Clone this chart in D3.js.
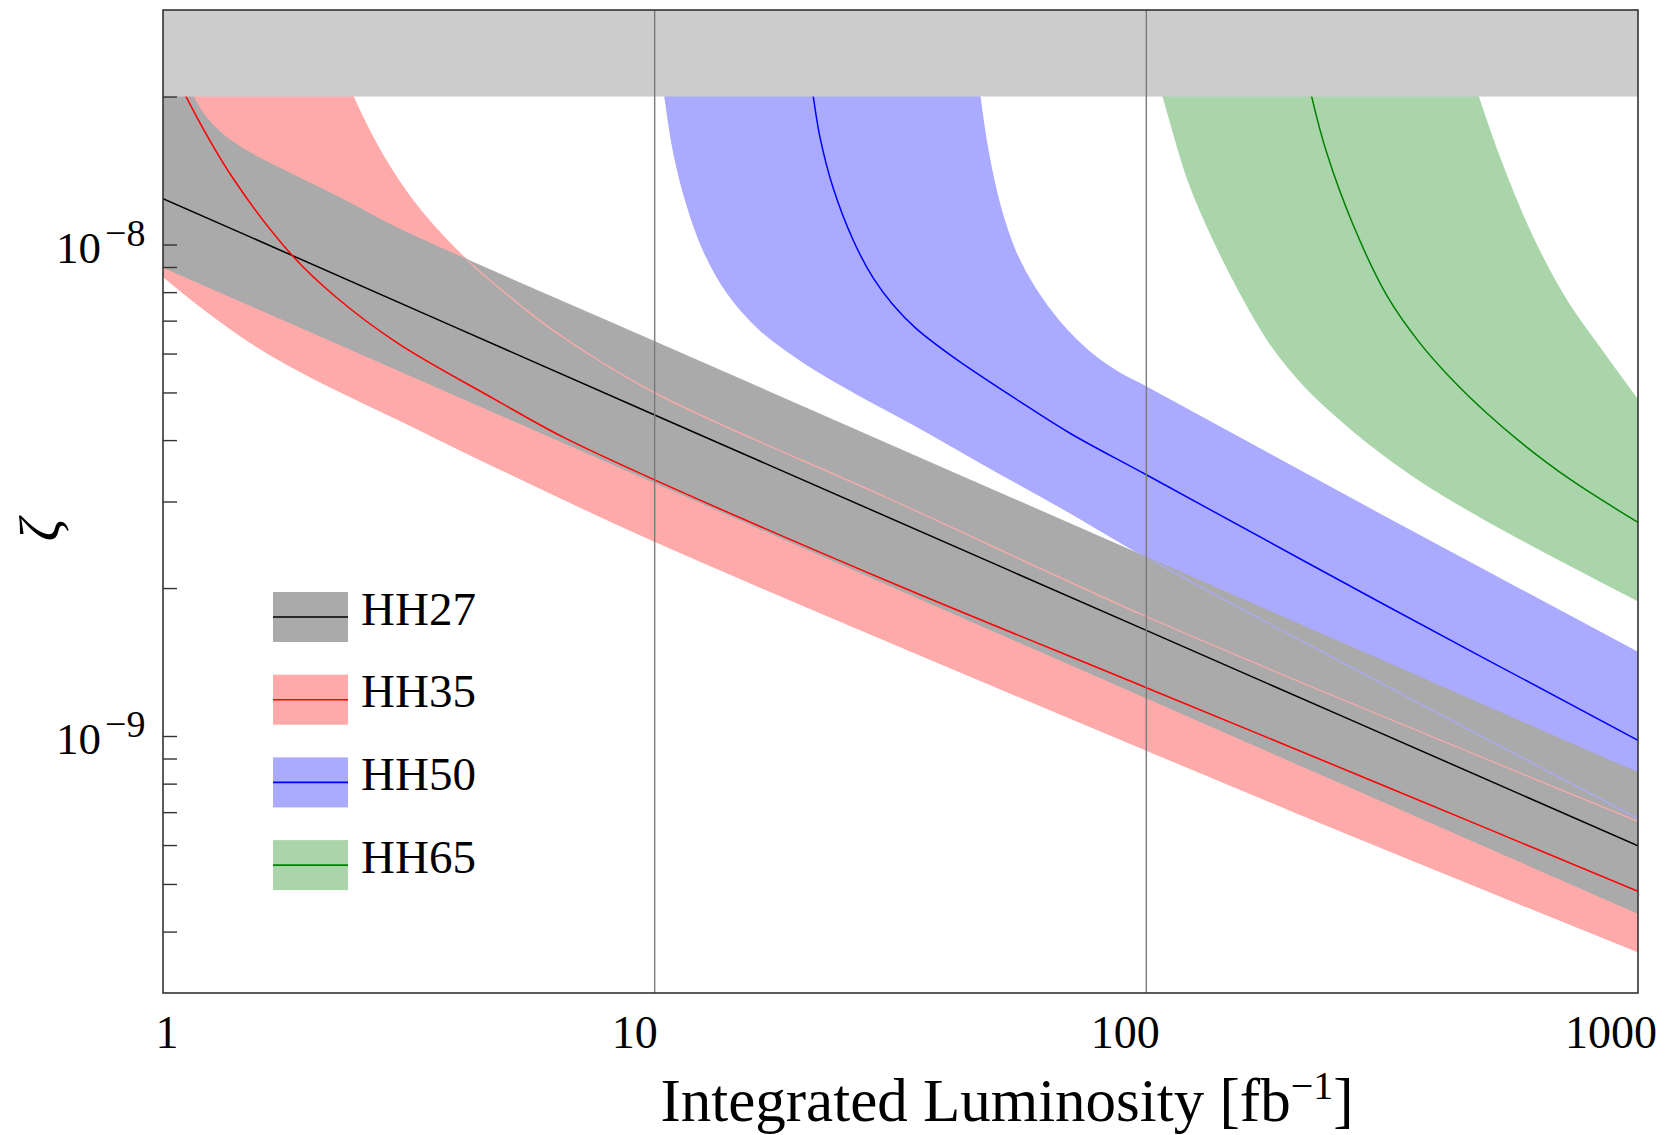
<!DOCTYPE html>
<html lang="en">
    <head>
        <meta charset="utf-8">
        <title>Luminosity reach</title>
        <script type="text/javascript" src="https://cdnjs.cloudflare.com/ajax/libs/d3/7.8.5/d3.min.js"></script>
        <style>
            body { margin: 0; background: #ffffff; }
            svg text { font-family: "Liberation Serif", "Times New Roman", serif; fill: #000000; }
        </style>
    </head>
    <body>
        <script type="text/javascript">

            // integrated luminosity (fb^-1) and zeta
            // (first points of some curves sit above 2e-8, under the excluded band)
            var hh27MidL = [1, 10, 100, 1000];
            var hh27Mid  = [1.24e-8, 4.50e-9, 1.64e-9, 5.98e-10];
            var hh27HiL  = [1, 1.151, 1.206, 1.276, 1.388, 1.575, 1.899, 2.401, 3, 10, 100, 1000];
            var hh27Hi   = [2.64e-8, 2.0e-8, 1.849e-8, 1.731e-8, 1.614e-8, 1.497e-8, 1.364e-8, 1.213e-8, 1.079e-8, 6.34e-9, 2.31e-9, 8.41e-10];
            var hh27LoL  = [1, 10, 100, 1000];
            var hh27Lo   = [9.0e-9, 3.28e-9, 1.196e-9, 4.36e-10];

            var hh35MidL = [1, 1.114, 1.388, 1.84, 2.25, 3, 4.75, 6.5, 10, 30, 100, 300, 1000];
            var hh35Mid  = [2.53e-8, 2.0e-8, 1.364e-8, 9.45e-9, 7.81e-9, 6.30e-9, 4.83e-9, 4.06e-9, 3.32e-9, 2.06e-9, 1.254e-9, 7.97e-10, 4.83e-10];
            var hh35HiL  = [1, 2.1, 2.435, 2.763, 3.22, 3.94, 5, 6.5, 10, 30, 100, 300, 1000];
            var hh35Hi   = [1e-7, 2.89e-8, 2.0e-8, 1.555e-8, 1.23e-8, 9.78e-9, 7.92e-9, 6.48e-9, 4.99e-9, 3.04e-9, 1.75e-9, 1.101e-9, 6.70e-10];
            var hh35LoL  = [1, 1.189, 1.548, 2, 3, 5, 10, 100, 300, 1000];
            var hh35Lo   = [8.62e-9, 7.49e-9, 6.21e-9, 5.37e-9, 4.41e-9, 3.44e-9, 2.49e-9, 9.36e-10, 5.93e-10, 3.64e-10];

            var hh50MidL = [20.6, 21.02, 21.69, 23.08, 25.34, 27.84, 30.5, 34, 40.49, 55.33, 69.94, 100, 300, 1000];
            var hh50Mid  = [2.37e-8, 2.0e-8, 1.652e-8, 1.301e-8, 1.020e-8, 8.54e-9, 7.55e-9, 6.75e-9, 5.90e-9, 4.79e-9, 4.13e-9, 3.40e-9, 1.867e-9, 9.80e-10];
            var hh50HiL  = [45.03, 45.87, 47.63, 50.39, 54.05, 59.36, 66.73, 76.8, 88.4, 100, 300, 1000];
            var hh50Hi   = [2.32e-8, 2.0e-8, 1.555e-8, 1.202e-8, 9.74e-9, 8.15e-9, 6.95e-9, 6.04e-9, 5.47e-9, 5.13e-9, 2.82e-9, 1.479e-9];
            var hh50LoL  = [10.3, 10.49, 10.91, 11.62, 12.56, 14.01, 16.38, 20.06, 25.34, 34.64, 47.34, 67.3, 100, 300, 1000];
            var hh50Lo   = [2.32e-8, 2.0e-8, 1.555e-8, 1.207e-8, 9.74e-9, 8.00e-9, 6.70e-9, 5.76e-9, 5.01e-9, 4.23e-9, 3.54e-9, 2.91e-9, 2.31e-9, 1.282e-9, 6.79e-10];

            var hh65MidL = [205, 216.9, 232.6, 263.6, 308.1, 360.1, 421, 492.1, 575.3, 727, 1000];
            var hh65Mid  = [2.63e-8, 2.0e-8, 1.540e-8, 1.094e-8, 7.89e-9, 6.30e-9, 5.28e-9, 4.54e-9, 3.97e-9, 3.33e-9, 2.72e-9];
            var hh65HiL  = [440, 473.2, 523.7, 612.1, 715.7, 836.6, 1000];
            var hh65Hi   = [2.52e-8, 2.0e-8, 1.497e-8, 1.030e-8, 7.70e-9, 6.16e-9, 4.82e-9];
            var hh65LoL  = [104, 108.2, 120.8, 132.1, 154.9, 180, 210.6, 246.1, 287.6, 361.8, 500, 1000];
            var hh65Lo   = [2.3e-8, 2.0e-8, 1.377e-8, 1.105e-8, 8.00e-9, 6.21e-9, 5.13e-9, 4.43e-9, 3.89e-9, 3.30e-9, 2.72e-9, 1.885e-9];

            var excludedFrom = 2e-8;
            var xTicks = [1, 10, 100, 1000];
            var yMajor = [1e-9, 1e-8];
            var yMinor = [4e-10, 5e-10, 6e-10, 7e-10, 8e-10, 9e-10,
                          2e-9, 3e-9, 4e-9, 5e-9, 6e-9, 7e-9, 8e-9, 9e-9, 2e-8];

            var w = 1665;
            var h = 1135;
            var pLeft = 163, pRight = 1638, pTop = 10, pBottom = 993;

            var xScale = d3.scaleLog().domain([1, 1000]).range([pLeft, pRight]);
            var yScale = d3.scaleLog().domain([3e-10, 3e-8]).range([pBottom, pTop]);

            var pts = function(ls, vs){ return ls.map(function(l, i){ return [l, vs[i]]; }); };

            var series = [
                {name: "HH27", fill: "#aaaaaa", stroke: "#000000",
                    mid: pts(hh27MidL, hh27Mid), hi: pts(hh27HiL, hh27Hi), lo: pts(hh27LoL, hh27Lo)},
                {name: "HH35", fill: "#ffaaaa", stroke: "#ff0000",
                    mid: pts(hh35MidL, hh35Mid), hi: pts(hh35HiL, hh35Hi), lo: pts(hh35LoL, hh35Lo)},
                {name: "HH50", fill: "#aaaaff", stroke: "#0000ff",
                    mid: pts(hh50MidL, hh50Mid), hi: pts(hh50HiL, hh50Hi), lo: pts(hh50LoL, hh50Lo)},
                {name: "HH65", fill: "#aad5aa", stroke: "#008000",
                    mid: pts(hh65MidL, hh65Mid), hi: pts(hh65HiL, hh65Hi), lo: pts(hh65LoL, hh65Lo)}
            ];
            var byName = {};
            series.forEach(function(s){ byName[s.name] = s; });

            var line = d3.line()
                .x(function(d){ return xScale(d[0]); })
                .y(function(d){ return yScale(d[1]); })
                .curve(d3.curveCatmullRom.alpha(0.5));

            var bandPath = function(s){
                var back = line(s.lo.slice().reverse());
                return line(s.hi) + "L" + back.slice(1) + "Z";
            };

            var svg = d3.select("body")
                .append("svg")
                .attr("width", w)
                .attr("height", h);

            svg.append("defs")
                .append("clipPath")
                .attr("id", "plotclip")
                .append("rect")
                .attr("x", pLeft)
                .attr("y", pTop)
                .attr("width", pRight - pLeft)
                .attr("height", pBottom - pTop);

            var plot = svg.append("g").attr("clip-path", "url(#plotclip)");

            // bands: grey one sits on top of the others
            var fillOrder = ["HH50", "HH65", "HH35", "HH27"];
            plot.selectAll("path.band")
                .data(fillOrder.map(function(n){ return byName[n]; }))
                .enter()
                .append("path")
                .attr("class", "band")
                .attr("d", bandPath)
                .attr("fill", function(d){ return d.fill; })
                .attr("stroke", "none");

            // band edges stay visible through the grey band
            fillOrder.forEach(function(n){
                var s = byName[n];
                [s.hi, s.lo].forEach(function(edge){
                    plot.append("path")
                        .attr("d", line(edge))
                        .attr("fill", "none")
                        .attr("stroke", s.fill)
                        .attr("stroke-width", 1.2);
                });
            });

            plot.selectAll("path.mid")
                .data(series)
                .enter()
                .append("path")
                .attr("class", "mid")
                .attr("d", function(d){ return line(d.mid); })
                .attr("fill", "none")
                .attr("stroke", function(d){ return d.stroke; })
                .attr("stroke-width", 1.5);

            // excluded region
            plot.append("rect")
                .attr("x", pLeft)
                .attr("y", yScale(3e-8) - 3)
                .attr("width", pRight - pLeft)
                .attr("height", yScale(excludedFrom) - yScale(3e-8) + 3)
                .attr("fill", "#cccccc");

            // vertical grid at 10 and 100
            svg.selectAll("line.grid")
                .data([10, 100])
                .enter()
                .append("line")
                .attr("class", "grid")
                .attr("x1", function(d){ return xScale(d); })
                .attr("x2", function(d){ return xScale(d); })
                .attr("y1", pTop)
                .attr("y2", pBottom)
                .attr("stroke", "#7a7a7a")
                .attr("stroke-width", 1.4);

            // y ticks, inward
            var yAxis = d3.axisLeft(yScale)
                .tickValues(yMajor.concat(yMinor))
                .tickSize(-14)
                .tickFormat("");
            svg.append("g")
                .attr("class", "y axis")
                .attr("transform", "translate(" + pLeft + ",0)")
                .call(yAxis)
                .call(function(g){ g.select(".domain").remove(); })
                .selectAll(".tick line")
                .attr("stroke", "#333333")
                .attr("stroke-width", 1.4);

            svg.append("rect")
                .attr("x", pLeft)
                .attr("y", pTop)
                .attr("width", pRight - pLeft)
                .attr("height", pBottom - pTop)
                .attr("fill", "none")
                .attr("stroke", "#333333")
                .attr("stroke-width", 1.6);

            // y tick labels 10^-n
            yMajor.forEach(function(v){
                var e = Math.round(Math.log10(v));
                svg.append("text")
                    .attr("x", 101)
                    .attr("y", yScale(v) + 18)
                    .attr("text-anchor", "end")
                    .style("font-size", "45px")
                    .text("10");
                svg.append("text")
                    .attr("x", 105)
                    .attr("y", yScale(v) + 1)
                    .style("font-size", "38px")
                    .text("\u2212" + Math.abs(e));
            });

            // x tick labels (shifted like in the original figure)
            var xLabelShift = [4, -20, -21, -27];
            svg.selectAll("text.xtick")
                .data(xTicks)
                .enter()
                .append("text")
                .attr("class", "xtick")
                .attr("x", function(d, i){ return xScale(d) + xLabelShift[i]; })
                .attr("y", 1048)
                .attr("text-anchor", "middle")
                .style("font-size", "46px")
                .text(function(d){ return d; });

            var xl = svg.append("text")
                .attr("x", 1007)
                .attr("y", 1121)
                .attr("text-anchor", "middle")
                .style("font-size", "61px");
            xl.append("tspan").text("Integrated Luminosity [fb");
            xl.append("tspan").attr("dy", -22).style("font-size", "40px").text("\u22121");
            xl.append("tspan").attr("dy", 22).text("]");

            svg.append("text")
                .attr("x", 59)
                .attr("y", 530)
                .attr("text-anchor", "middle")
                .attr("transform", "rotate(-90,59,530)")
                .style("font-size", "56px")
                .style("font-style", "italic")
                .text("\u03b6");

            // legend
            var legend = svg.selectAll("g.legend")
                .data(series)
                .enter()
                .append("g")
                .attr("class", "legend")
                .attr("transform", function(d, i){ return "translate(273," + (592 + i * 82.7) + ")"; });

            legend.append("rect")
                .attr("width", 75)
                .attr("height", 50)
                .attr("fill", function(d){ return d.fill; });
            legend.append("line")
                .attr("x1", 0)
                .attr("x2", 75)
                .attr("y1", 25)
                .attr("y2", 25)
                .attr("stroke", function(d){ return d.stroke; })
                .attr("stroke-width", 1.6);
            legend.append("text")
                .attr("x", 88)
                .attr("y", 32.5)
                .style("font-size", "47px")
                .text(function(d){ return d.name; });

        </script>
    </body>
</html>
